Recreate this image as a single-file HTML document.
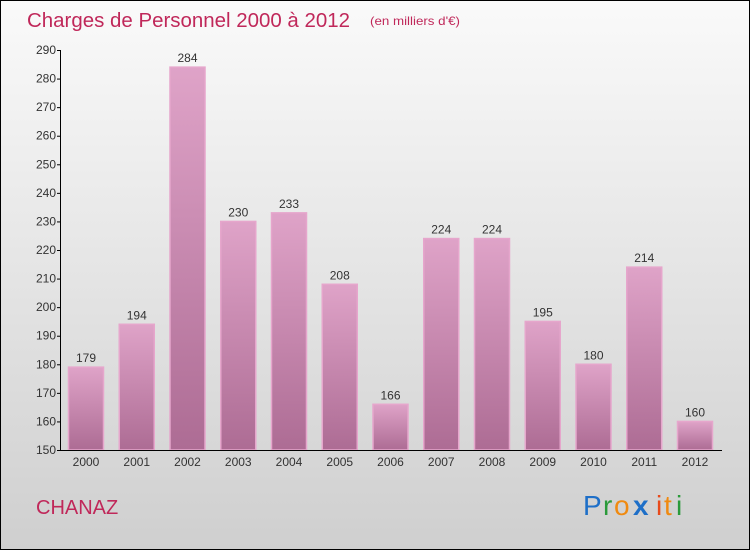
<!DOCTYPE html>
<html><head><meta charset="utf-8"><style>
body{margin:0}
#wrap{position:relative;width:750px;height:550px;overflow:hidden}
text{font-family:"Liberation Sans",sans-serif}
</style></head><body>
<div id="wrap">
<svg id="chart" width="750" height="550" xmlns="http://www.w3.org/2000/svg">
<defs>
<linearGradient id="bg" x1="0" y1="0" x2="0" y2="1"><stop offset="0" stop-color="#fafafa"/><stop offset="1" stop-color="#cfcfcf"/></linearGradient>
<linearGradient id="bar" x1="0" y1="0" x2="0" y2="1"><stop offset="0" stop-color="#dfa3c8"/><stop offset="1" stop-color="#ad6c94"/></linearGradient>
</defs>
<rect x="0.5" y="0.5" width="749" height="549" fill="url(#bg)" stroke="#000"/>
<text x="27" y="27" font-size="20" textLength="323" lengthAdjust="spacingAndGlyphs" fill="#c0285a">Charges de Personnel 2000 à 2012</text>
<text x="370" y="25" font-size="12" textLength="90" lengthAdjust="spacingAndGlyphs" fill="#c0285a">(en milliers d'€)</text>
<text x="36" y="514" font-size="20" fill="#c0285a">CHANAZ</text>
<g id="logo" font-size="28">
<text x="583" y="515" fill="#1e6fc8">P</text><text x="603" y="515" fill="#2a9a3a">r</text><text x="614" y="515" fill="#f08a10">o</text><text x="633" y="515" fill="#1e6fc8" font-weight="bold">x</text><text x="656" y="515" fill="#e84a1a">i</text><text x="664" y="515" fill="#f08a10">t</text><text x="676" y="515" fill="#2a9a3a">i</text>
</g>
<g id="bars"></g><g id="axes"></g>
</svg></div>
<script>
const categories=["2000","2001","2002","2003","2004","2005","2006","2007","2008","2009","2010","2011","2012"];
const values=[179,194,284,230,233,208,166,224,224,195,180,214,160];
const yTicks=[150,160,170,180,190,200,210,220,230,240,250,260,270,280,290];
const NS="http://www.w3.org/2000/svg";
const y0=450,y1=50,vmin=150,vmax=290;
function yScale(v){return y0-(v-vmin)/(vmax-vmin)*(y0-y1);}
function xScale(i){return 86+i*50.75;}
function mk(tag,attrs,parent,txt){const e=document.createElementNS(NS,tag);for(const k in attrs)e.setAttribute(k,attrs[k]);if(txt!==undefined)e.textContent=txt;parent.appendChild(e);return e;}
const bars=document.getElementById('bars'),axes=document.getElementById('axes');
values.forEach((v,i)=>{
 const x=xScale(i)-17.5,y=yScale(v);
 const r=mk('rect',{x:x,y:y,width:35,height:y0-y,fill:'url(#bar)',stroke:'#e6a6cc','stroke-width':1.5},bars);
 
 
 const t=mk('text',{x:xScale(i),y:y-5,'font-size':12,'text-anchor':'middle',fill:'#333'},bars,String(v));
 
 
 const c=mk('text',{x:xScale(i),y:466,'font-size':12,'text-anchor':'middle',fill:'#333'},axes,categories[i]);
 
 
});
const ya=mk('line',{x1:60.5,y1:y1,x2:60.5,y2:y0,stroke:'#000'},axes);


const xa=mk('line',{x1:60,y1:450.5,x2:722,y2:450.5,stroke:'#000'},axes);


yTicks.forEach(v=>{
 const y=yScale(v);
 mk('line',{x1:57,y1:y+0.5,x2:61,y2:y+0.5,stroke:'#000'},axes);
 const t=mk('text',{x:56,y:y+4,'font-size':12,'text-anchor':'end',fill:'#333'},axes,String(v));
 
 
});
</script>
</body></html>
